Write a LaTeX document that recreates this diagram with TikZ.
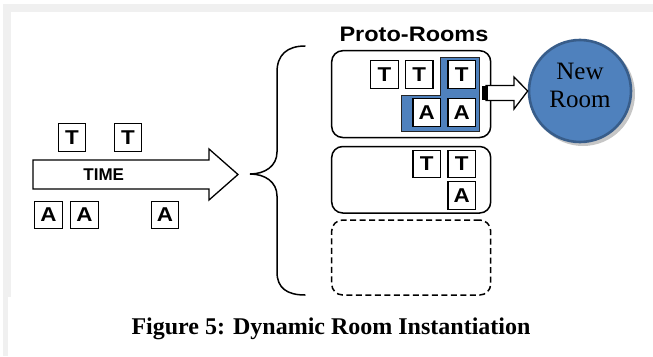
\documentclass[tikz,border=0pt]{standalone}
\usepackage{fontspec}
\usepackage{graphicx}
\setmainfont{Liberation Serif}
\newfontfamily\headsans{Liberation Sans}
\usetikzlibrary{shapes.geometric}
\definecolor{stripgray}{HTML}{F0F0F0}
\definecolor{roomblue}{HTML}{4F81BD}
\definecolor{roomedge}{HTML}{385D8A}
% horizontally widened sans lettering
\newcommand{\widesans}[2]{\scalebox{#1}[1]{#2}}

\begin{document}
\begin{tikzpicture}[x=1pt,y=-1pt,
  letterbox/.style={draw=black, line width=1.4pt, fill=white, minimum size=27.5pt,
    inner sep=0pt, font=\headsans\bfseries\fontsize{20}{20}\selectfont},
  roombox/.style={draw=black, line width=1.5pt, rounded corners=11pt,
    minimum width=159pt, inner sep=0pt},
  openroom/.style={roombox, dash pattern=on 6pt off 3.5pt},
  blockarrow/.style={draw=black, line width=1.3pt, fill=white, line join=miter},
  bracestyle/.style={draw=black, line width=1.5pt, line cap=round},
  headline/.style={font=\headsans\bfseries\fontsize{21}{21}\selectfont, inner sep=0pt},
  captionstyle/.style={font=\bfseries\fontsize{24}{28}\selectfont, inner sep=0pt}]

\useasboundingbox (0,0) rectangle (653,356);
\fill[white] (0,0) rectangle (653,356);

% page margin strips
\fill[stripgray] (3,4) rectangle (653,12);
\fill[stripgray] (3,4) rectangle (11,297);
\fill[stripgray] (3,297) rectangle (8,356);

% time line with incoming evidence
\draw[blockarrow] (33,160) -- (209,160) -- (209,149) -- (238,174.5)
  -- (209,200) -- (209,189) -- (33,189) -- cycle;
\node[font=\headsans\bfseries\fontsize{17}{17}\selectfont, inner sep=0pt, anchor=base]
  (timelabel) at (103.7,180.5) {TIME};

\node[letterbox] (lt1) at (72,137.5) {\widesans{1.12}{T}};
\node[letterbox] (lt2) at (128,137.5) {\widesans{1.12}{T}};
\node[letterbox] (la1) at (48.5,215) {\widesans{1.12}{A}};
\node[letterbox] (la2) at (84.5,215) {\widesans{1.12}{A}};
\node[letterbox] (la3) at (165,215) {\widesans{1.12}{A}};

% brace grouping the proto-rooms
\draw[bracestyle] (305,46) .. controls (287,46) and (277,55) .. (277,72)
  -- (277,152) .. controls (277,166) and (265,174) .. (250,174)
  .. controls (265,174) and (277,182) .. (277,196)
  -- (277,272) .. controls (277,288) and (287,295) .. (305,295);

% proto-rooms
\node[headline, anchor=base] (protohead) at (414,41.7) {\widesans{1.12}{Proto-Rooms}};
\node[roombox, minimum height=86.8pt] (room1) at (411.2,94.1) {};
\node[roombox, minimum height=66.5pt] (room2) at (411.2,179.75) {};
\node[openroom, minimum height=75pt] (room3) at (411.2,257.5) {};

% selected evidence in the first proto-room
\filldraw[fill=roomblue, draw=black!85, line width=1pt]
  (440.3,57.3) -- (479.3,57.3) -- (479.3,131.7) -- (401,131.7)
  -- (401,95) -- (440.3,95) -- cycle;

\node[letterbox] (r1t1) at (384.5,74.5) {\widesans{1.12}{T}};
\node[letterbox] (r1t2) at (419.2,74.5) {\widesans{1.12}{T}};
\node[letterbox] (r1t3) at (461.7,74.5) {\widesans{1.12}{T}};
\node[letterbox] (r1a1) at (426.7,112.5) {\widesans{1.12}{A}};
\node[letterbox] (r1a2) at (461.7,112.5) {\widesans{1.12}{A}};

\node[letterbox] (r2t1) at (426.7,164) {\widesans{1.12}{T}};
\node[letterbox] (r2t2) at (461.7,164) {\widesans{1.12}{T}};
\node[letterbox] (r2a1) at (461.7,195.5) {\widesans{1.12}{A}};

% instantiated room
\fill[gray!45] (583,94) circle[radius=52];
\node[circle, draw=roomedge, line width=2.6pt, fill=roomblue, minimum size=102pt,
  inner sep=0pt] (newroom) at (580,91) {};
\node[align=center, font=\fontsize{25}{28}\selectfont, inner sep=0pt]
  (newroomtext) at (580,85.5) {New\\Room};

% promotion arrow from the first proto-room
\draw[blockarrow] (486,85.5) -- (514,85.5) -- (514,77) -- (newroom.west)
  -- (514,109) -- (514,100.5) -- (486,100.5) -- cycle;
\fill[black] (482,86) rectangle (488,100);

% caption
\node[captionstyle, anchor=base] (caption) at (331,334)
  {Figure 5: Dynamic Room Instantiation};
\end{tikzpicture}
\end{document}
